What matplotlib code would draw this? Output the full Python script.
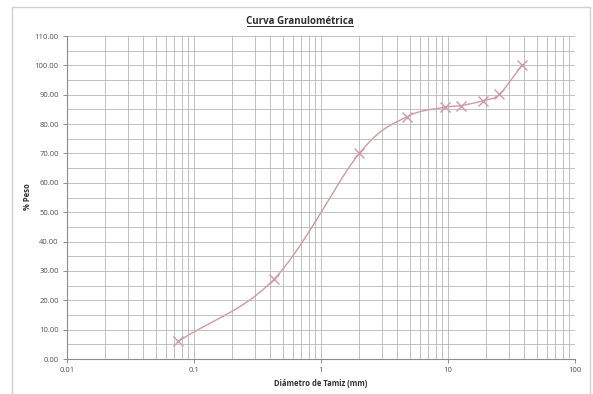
import numpy as np
import matplotlib.pyplot as plt
from matplotlib.patches import Rectangle
from matplotlib.ticker import FixedLocator, MultipleLocator, FuncFormatter

# datos de la curva (diametro de tamiz en mm, % que pasa)
diametro = [0.075, 0.425, 2.0, 4.75, 9.5, 12.7, 19.0, 25.4, 38.1]
pct_peso = [6.0, 27.1, 70.0, 82.5, 85.7, 86.3, 88.0, 90.2, 100.0]

x_ticks = [0.01, 0.1, 1, 10, 100]
x_labels = ['0.01', '0.1', '1', '10', '100']

color_linea = '#cf9aa4'
color_grid = '#b8b8b8'


def suavizar(xs, ys, n=30):
    # curva suavizada tipo Excel (Catmull-Rom en espacio log-x)
    lx = np.log10(xs)
    ys = np.asarray(ys, dtype=float)
    px = np.concatenate([[2 * lx[0] - lx[1]], lx, [2 * lx[-1] - lx[-2]]])
    py = np.concatenate([[2 * ys[0] - ys[1]], ys, [2 * ys[-1] - ys[-2]]])
    out_x, out_y = [], []
    t = np.linspace(0, 1, n)
    for i in range(1, len(px) - 2):
        p0, p1, p2, p3 = (np.array([px[j], py[j]]) for j in range(i - 1, i + 3))
        c1 = p1 + (p2 - p0) / 6
        c2 = p2 - (p3 - p1) / 6
        pts = ((1 - t) ** 3)[:, None] * p1 + (3 * (1 - t) ** 2 * t)[:, None] * c1 \
            + (3 * (1 - t) * t ** 2)[:, None] * c2 + (t ** 3)[:, None] * p2
        out_x.extend(pts[:, 0])
        out_y.extend(pts[:, 1])
    return 10 ** np.array(out_x), np.array(out_y)


fig = plt.figure(figsize=(5.93, 3.94), dpi=100)
plt.rcParams['font.family'] = ['Open Sans', 'DejaVu Sans']

# borde del area del grafico
fig.patches.append(Rectangle((12 / 593, -0.01), 578 / 593, 1 - 7 / 394 + 0.01,
                             transform=fig.transFigure, fill=False,
                             edgecolor='#d0d0d0', linewidth=1.0))

ax = fig.add_axes([67 / 593, 1 - 359 / 394, 508 / 593, 323 / 394])

sx, sy = suavizar(diametro, pct_peso)
ax.plot(sx, sy, color=color_linea, linewidth=1.0, zorder=3)
ax.plot(diametro, pct_peso, linestyle='none', marker='x', markersize=6.5,
        markeredgewidth=1.0, color=color_linea, zorder=4)

ax.set_xscale('log')
ax.set_xlim(0.01, 100)
ax.set_ylim(0, 110)
ax.xaxis.set_major_locator(FixedLocator(x_ticks))
ax.xaxis.set_major_formatter(FuncFormatter(lambda v, p: x_labels[x_ticks.index(v)] if v in x_ticks else ''))
ax.yaxis.set_major_locator(MultipleLocator(10))
ax.yaxis.set_minor_locator(MultipleLocator(5))
ax.yaxis.set_major_formatter(FuncFormatter(lambda v, p: f'{v:.2f}'))

ax.grid(True, which='both', color=color_grid, linewidth=0.6)
ax.set_axisbelow(True)
for s in ['top', 'right']:
    ax.spines[s].set_visible(False)
ax.spines['left'].set_color('#8c8c8c')
ax.spines['bottom'].set_color('#8c8c8c')
ax.tick_params(axis='both', which='major', labelsize=5.5, colors='#8c8c8c',
               length=3, width=0.7, pad=3)
ax.tick_params(axis='both', which='minor', length=0, labelbottom=False)
for lab in ax.get_xticklabels() + ax.get_yticklabels():
    lab.set_color('#505050')

fig.text(300 / 593, 1 - 21 / 394, 'Curva Granulométrica', ha='center', va='center',
         fontsize=7, fontweight='bold', color='#303030')
fig.add_artist(plt.Line2D([247 / 593, 353 / 593], [1 - 26 / 394, 1 - 26 / 394],
                          color='#303030', linewidth=0.7))
fig.text(321 / 593, 1 - 384 / 394, 'Diámetro de Tamiz (mm)', ha='center', va='center',
         fontsize=5.5, fontweight='bold', color='#303030')
fig.text(27 / 593, 1 - 197 / 394, '% Peso', ha='center', va='center', rotation=90,
         fontsize=5.5, fontweight='bold', color='#303030')

fig.savefig('out.png', dpi=100)
